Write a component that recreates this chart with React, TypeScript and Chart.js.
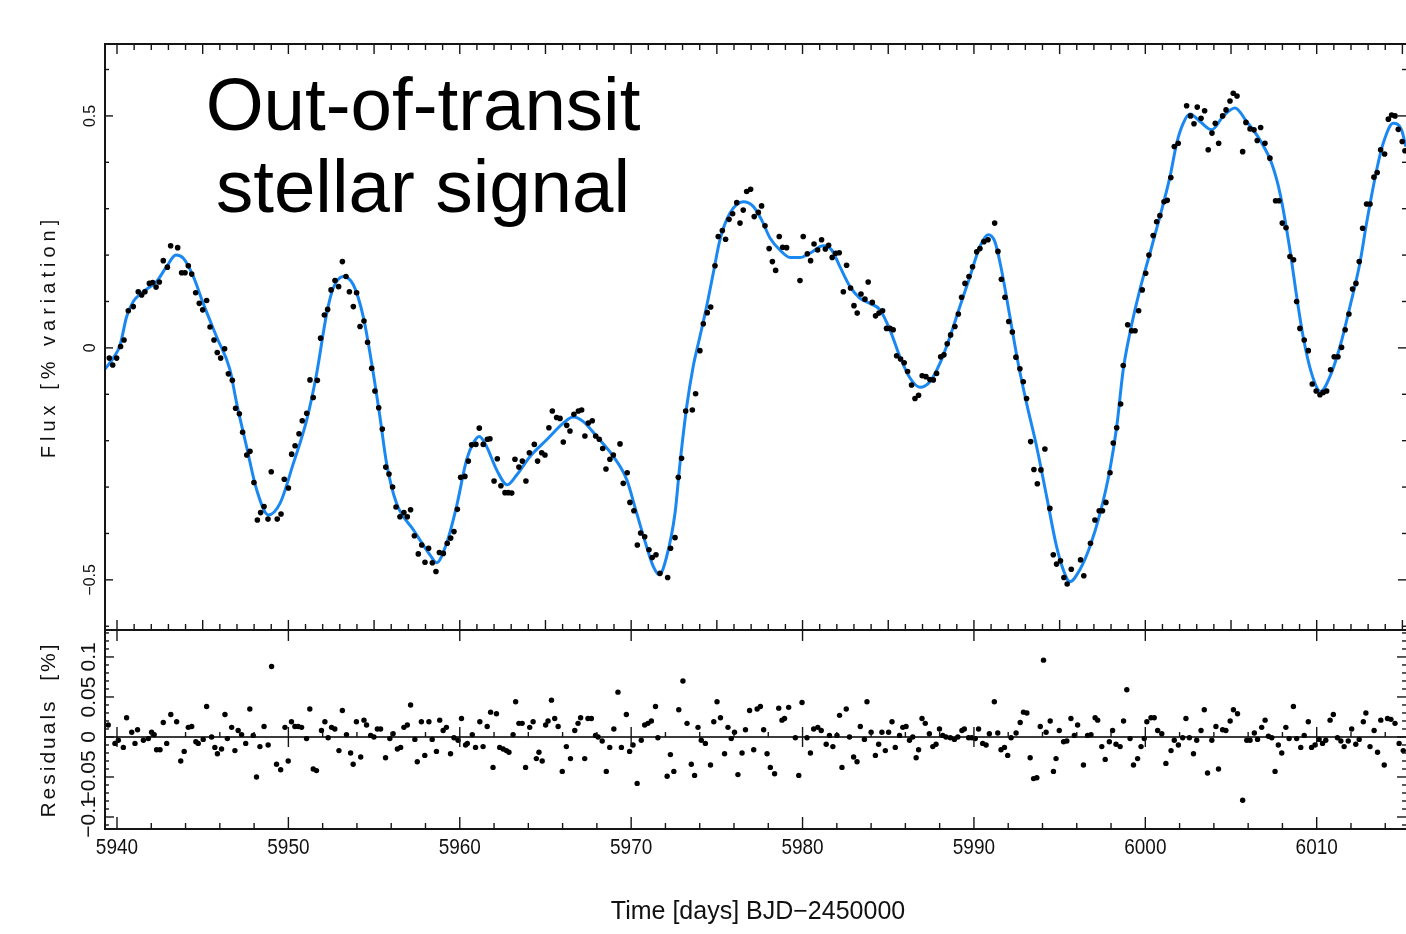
import React, { useEffect, useRef } from "react";
import { Chart, registerables } from "chart.js";

Chart.register(...registerables);

// ---------------- data ----------------
const X_MIN = 5939.3;
const X_MAX = 6015.21;
const FLUX_AXIS_MIN = -1.037;
const FLUX_AXIS_MAX = 0.655;
const FLUX_PANEL_BOTTOM = -0.608;
const RES_AXIS_MIN = -0.115;
const RES_AXIS_MAX = 0.866;

const xTickValues = [5940, 5950, 5960, 5970, 5980, 5990, 6000, 6010];
const xTickLabels = ["5940", "5950", "5960", "5970", "5980", "5990", "6000", "6010"];
const fluxTickValues = [0.5, 0, -0.5];
const fluxTickLabels = ["0.5", "0", "\u22120.5"];
const resTickValues = [0.1, 0.05, 0, -0.05, -0.1];
const resTickLabels = ["0.1", "0.05", "0", "\u22120.05", "\u22120.1"];

const xTitle = "Time [days] BJD\u22122450000";
const fluxTitle = "Flux [% variation]";
const resTitle = "Residuals  [%]";
const annotation = ["Out-of-transit", "stellar signal"];

// stellar model (blue curve) [day, flux %]
const modelCurve: [number, number][] = [
  [5939.3, -0.046], [5939.78, -0.022], [5940.18, 0.006], [5940.56, 0.067], [5940.95, 0.1],
  [5941.53, 0.121], [5942.31, 0.143], [5942.89, 0.175], [5943.44, 0.2], [5943.87, 0.193],
  [5944.45, 0.154], [5945.03, 0.096], [5945.81, 0.024], [5946.59, -0.047], [5946.98, -0.119],
  [5947.56, -0.213], [5948.15, -0.306], [5948.83, -0.36], [5949.51, -0.335], [5950.29, -0.249],
  [5951.07, -0.155], [5951.65, -0.055], [5952.24, 0.075], [5952.62, 0.129], [5953.2, 0.154],
  [5953.79, 0.136], [5954.37, 0.067], [5954.86, -0.033], [5955.34, -0.148], [5955.73, -0.249],
  [5956.31, -0.335], [5957.29, -0.392], [5958.26, -0.446], [5958.65, -0.463], [5959.23, -0.421],
  [5959.81, -0.342], [5960.4, -0.241], [5960.79, -0.205], [5961.14, -0.191], [5961.57, -0.213],
  [5962.15, -0.263], [5962.77, -0.295], [5963.32, -0.274], [5964.1, -0.234], [5965.07, -0.198],
  [5966.04, -0.162], [5966.62, -0.149], [5967.21, -0.159], [5967.99, -0.191], [5968.96, -0.234],
  [5969.74, -0.284], [5970.32, -0.356], [5970.9, -0.428], [5971.29, -0.471], [5971.64, -0.489],
  [5972.07, -0.45], [5972.56, -0.356], [5972.85, -0.249], [5973.24, -0.127], [5973.62, -0.04],
  [5974.01, 0.024], [5974.4, 0.089], [5974.79, 0.161], [5975.18, 0.233], [5975.76, 0.29],
  [5976.54, 0.315], [5977.12, 0.305], [5977.61, 0.276], [5978.1, 0.237], [5978.68, 0.211],
  [5979.27, 0.195], [5979.85, 0.195], [5980.43, 0.204], [5981.21, 0.22], [5981.7, 0.211],
  [5982.18, 0.175], [5982.77, 0.132], [5983.35, 0.107], [5983.93, 0.096], [5984.52, 0.082],
  [5985.1, 0.039], [5985.68, -0.019], [5986.27, -0.065], [5986.85, -0.085], [5987.43, -0.073],
  [5988.02, -0.033], [5988.6, 0.024], [5989.18, 0.089], [5989.77, 0.154], [5990.35, 0.219],
  [5990.83, 0.244], [5991.22, 0.229], [5991.61, 0.168], [5992.1, 0.067], [5992.58, -0.033],
  [5993.07, -0.119], [5993.66, -0.213], [5994.24, -0.32], [5994.82, -0.428], [5995.21, -0.478],
  [5995.6, -0.504], [5996.18, -0.478], [5996.77, -0.428], [5997.35, -0.358], [5997.93, -0.263],
  [5998.33, -0.17], [5998.71, -0.047], [5999.1, 0.032], [5999.68, 0.125], [6000.27, 0.204],
  [6000.85, 0.283], [6001.44, 0.369], [6001.83, 0.441], [6002.21, 0.484], [6002.6, 0.504],
  [6003.19, 0.488], [6003.87, 0.47], [6004.54, 0.499], [6005.23, 0.517], [6005.91, 0.488],
  [6006.69, 0.448], [6007.37, 0.398], [6007.86, 0.333], [6008.44, 0.211], [6008.83, 0.111],
  [6009.21, 0.024], [6009.7, -0.055], [6010.23, -0.094], [6010.77, -0.062], [6011.36, 0.003],
  [6011.94, 0.089], [6012.52, 0.183], [6012.91, 0.269], [6013.5, 0.384], [6013.88, 0.441],
  [6014.46, 0.484], [6014.95, 0.47], [6015.2, 0.434],
];

// observed flux (black dots) [day, flux %]
const observedFlux: [number, number][] = [
  [5939.55, -0.022], [5939.75, -0.037], [5939.98, -0.022], [5940.21, 0.003], [5940.41, 0.017],
  [5940.66, 0.08], [5940.95, 0.089], [5941.24, 0.121], [5941.44, 0.114], [5941.63, 0.121],
  [5941.89, 0.139], [5942.08, 0.141], [5942.28, 0.131], [5942.47, 0.142], [5942.7, 0.188],
  [5942.94, 0.174], [5943.13, 0.22], [5943.54, 0.216], [5943.77, 0.162], [5943.97, 0.162],
  [5944.16, 0.177], [5944.36, 0.159], [5944.59, 0.119], [5944.8, 0.096], [5945.0, 0.082],
  [5945.23, 0.102], [5945.43, 0.045], [5945.66, 0.017], [5945.85, -0.01], [5946.05, -0.022],
  [5946.28, -0.002], [5946.5, -0.056], [5946.73, -0.07], [5946.92, -0.13], [5947.14, -0.142],
  [5947.33, -0.182], [5947.57, -0.231], [5947.76, -0.223], [5947.99, -0.29], [5948.19, -0.371],
  [5948.38, -0.355], [5948.58, -0.342], [5948.81, -0.369], [5949.0, -0.267], [5949.35, -0.369],
  [5949.57, -0.358], [5949.76, -0.283], [5950.0, -0.302], [5950.19, -0.229], [5950.39, -0.211],
  [5950.62, -0.185], [5950.81, -0.157], [5951.07, -0.141], [5951.26, -0.069], [5951.45, -0.107],
  [5951.69, -0.07], [5951.88, 0.021], [5952.1, 0.071], [5952.29, 0.083], [5952.49, 0.125],
  [5952.72, 0.145], [5952.93, 0.132], [5953.15, 0.186], [5953.36, 0.154], [5953.56, 0.121],
  [5953.79, 0.089], [5953.98, 0.119], [5954.18, 0.046], [5954.41, 0.058], [5954.62, 0.012],
  [5954.86, -0.044], [5955.05, -0.093], [5955.27, -0.129], [5955.48, -0.175], [5955.68, -0.257],
  [5955.87, -0.272], [5956.08, -0.3], [5956.28, -0.343], [5956.51, -0.364], [5956.74, -0.355],
  [5956.94, -0.364], [5957.13, -0.349], [5957.35, -0.405], [5957.58, -0.444], [5957.78, -0.425],
  [5957.97, -0.462], [5958.18, -0.432], [5958.4, -0.463], [5958.61, -0.482], [5958.81, -0.441],
  [5959.04, -0.443], [5959.27, -0.421], [5959.47, -0.41], [5959.66, -0.396], [5959.86, -0.348],
  [5960.05, -0.279], [5960.3, -0.277], [5960.5, -0.244], [5960.69, -0.209], [5960.94, -0.208],
  [5961.14, -0.173], [5961.37, -0.208], [5961.61, -0.197], [5961.76, -0.196], [5962.0, -0.287],
  [5962.19, -0.239], [5962.4, -0.297], [5962.64, -0.312], [5962.83, -0.312], [5963.03, -0.313],
  [5963.22, -0.24], [5963.45, -0.257], [5963.65, -0.244], [5963.86, -0.287], [5964.06, -0.226],
  [5964.35, -0.208], [5964.54, -0.244], [5964.78, -0.226], [5964.97, -0.231], [5965.2, -0.172],
  [5965.4, -0.136], [5965.65, -0.15], [5965.85, -0.152], [5966.04, -0.203], [5966.24, -0.167],
  [5966.43, -0.179], [5966.66, -0.143], [5966.92, -0.136], [5967.11, -0.134], [5967.3, -0.19],
  [5967.5, -0.162], [5967.73, -0.157], [5967.93, -0.19], [5968.14, -0.197], [5968.34, -0.217],
  [5968.53, -0.261], [5968.76, -0.24], [5968.96, -0.231], [5969.35, -0.207], [5969.54, -0.292],
  [5969.77, -0.269], [5969.93, -0.333], [5970.16, -0.351], [5970.36, -0.425], [5970.55, -0.399],
  [5970.79, -0.407], [5971.04, -0.435], [5971.23, -0.452], [5971.45, -0.446], [5971.68, -0.486],
  [5972.13, -0.495], [5972.3, -0.432], [5972.56, -0.409], [5972.75, -0.279], [5972.94, -0.238],
  [5973.18, -0.136], [5973.57, -0.134], [5973.76, -0.099], [5974.01, -0.006], [5974.21, 0.052],
  [5974.44, 0.076], [5974.64, 0.088], [5974.89, 0.177], [5975.08, 0.24], [5975.32, 0.253],
  [5975.51, 0.234], [5975.71, 0.277], [5975.92, 0.289], [5976.16, 0.313], [5976.35, 0.269],
  [5976.54, 0.297], [5976.74, 0.337], [5976.97, 0.342], [5977.18, 0.283], [5977.42, 0.292],
  [5977.61, 0.306], [5977.81, 0.263], [5978.05, 0.214], [5978.24, 0.186], [5978.43, 0.167],
  [5978.64, 0.24], [5978.84, 0.217], [5979.07, 0.216], [5979.85, 0.145], [5980.04, 0.24],
  [5980.28, 0.203], [5980.47, 0.188], [5980.67, 0.224], [5980.88, 0.211], [5981.11, 0.233],
  [5981.33, 0.213], [5981.52, 0.221], [5981.73, 0.195], [5981.93, 0.204], [5982.14, 0.205],
  [5982.38, 0.121], [5982.57, 0.178], [5982.8, 0.129], [5983.0, 0.091], [5983.19, 0.075],
  [5983.41, 0.116], [5983.64, 0.105], [5983.83, 0.142], [5984.07, 0.098], [5984.26, 0.069],
  [5984.46, 0.075], [5984.67, 0.08], [5984.9, 0.042], [5985.1, 0.042], [5985.29, 0.039],
  [5985.49, -0.017], [5985.72, -0.024], [5985.93, -0.032], [5986.13, -0.051], [5986.36, -0.08],
  [5986.56, -0.109], [5986.77, -0.102], [5986.98, -0.06], [5987.2, -0.062], [5987.43, -0.068],
  [5987.63, -0.069], [5987.82, -0.055], [5988.06, -0.019], [5988.25, -0.015], [5988.44, 0.009],
  [5988.64, 0.028], [5988.89, 0.046], [5989.09, 0.073], [5989.28, 0.109], [5989.48, 0.139],
  [5989.71, 0.154], [5989.92, 0.175], [5990.16, 0.207], [5990.35, 0.214], [5990.58, 0.229],
  [5990.82, 0.233], [5991.21, 0.269], [5991.4, 0.208], [5991.6, 0.148], [5991.81, 0.109],
  [5992.03, 0.057], [5992.24, 0.034], [5992.45, -0.02], [5992.68, -0.045], [5992.88, -0.073],
  [5993.07, -0.109], [5993.31, -0.202], [5993.5, -0.262], [5993.7, -0.293], [5993.91, -0.263],
  [5994.14, -0.218], [5994.43, -0.346], [5994.63, -0.446], [5994.82, -0.466], [5995.05, -0.459],
  [5995.25, -0.495], [5995.44, -0.509], [5995.68, -0.477], [5996.22, -0.457], [5996.41, -0.491],
  [5996.8, -0.421], [5997.06, -0.371], [5997.31, -0.351], [5997.5, -0.351], [5997.7, -0.333],
  [5997.94, -0.269], [5998.13, -0.205], [5998.33, -0.172], [5998.56, -0.121], [5998.71, -0.038],
  [5998.97, 0.05], [5999.2, 0.037], [5999.4, 0.037], [5999.61, 0.08], [5999.82, 0.125],
  [6000.02, 0.161], [6000.21, 0.2], [6000.46, 0.242], [6000.66, 0.272], [6000.85, 0.285],
  [6001.09, 0.315], [6001.28, 0.318], [6001.49, 0.367], [6001.69, 0.434], [6001.92, 0.441],
  [6002.41, 0.522], [6002.64, 0.5], [6002.84, 0.483], [6003.03, 0.519], [6003.25, 0.495],
  [6003.46, 0.511], [6003.67, 0.427], [6003.89, 0.463], [6004.08, 0.484], [6004.28, 0.441],
  [6004.51, 0.5], [6004.71, 0.513], [6004.94, 0.532], [6005.13, 0.549], [6005.35, 0.543],
  [6005.68, 0.423], [6005.87, 0.486], [6006.11, 0.472], [6006.34, 0.47], [6006.53, 0.447],
  [6006.73, 0.475], [6006.98, 0.441], [6007.27, 0.409], [6007.6, 0.317], [6007.8, 0.317],
  [6007.99, 0.269], [6008.21, 0.259], [6008.44, 0.197], [6008.65, 0.19], [6008.83, 0.1],
  [6009.02, 0.042], [6009.27, 0.017], [6009.51, -0.006], [6009.74, -0.078], [6009.97, -0.093],
  [6010.19, -0.101], [6010.38, -0.096], [6010.58, -0.093], [6010.81, -0.047], [6011.02, -0.019],
  [6011.24, -0.019], [6011.45, 0.001], [6011.66, 0.039], [6011.88, 0.073], [6012.09, 0.127],
  [6012.29, 0.139], [6012.48, 0.186], [6012.68, 0.258], [6012.91, 0.31], [6013.11, 0.31],
  [6013.34, 0.368], [6013.53, 0.378], [6013.73, 0.427], [6013.96, 0.418], [6014.18, 0.493],
  [6014.37, 0.502], [6014.57, 0.5], [6014.76, 0.471], [6014.99, 0.445], [6015.15, 0.425],
];

// residuals [day, %]
const residuals: [number, number][] = [
  [5939.49, 0.015], [5939.88, -0.008], [5940.08, -0.004], [5940.37, -0.013], [5940.56, 0.024],
  [5940.86, 0.006], [5941.05, -0.008], [5941.2, 0.009], [5941.54, -0.004], [5941.83, -0.002],
  [5942.02, 0.006], [5942.17, 0.003], [5942.31, -0.016], [5942.51, -0.016], [5942.7, 0.018],
  [5942.9, -0.008], [5943.14, 0.028], [5943.48, 0.019], [5943.72, -0.03], [5943.92, -0.018],
  [5944.16, 0.012], [5944.36, 0.013], [5944.6, -0.006], [5944.74, -0.008], [5945.03, -0.003],
  [5945.23, 0.038], [5945.52, 0.0], [5945.71, -0.013], [5945.86, -0.021], [5946.1, -0.015],
  [5946.3, 0.028], [5946.44, -0.002], [5946.69, 0.012], [5946.88, -0.017], [5947.07, 0.008],
  [5947.27, 0.003], [5947.51, -0.008], [5947.75, 0.035], [5947.95, 0.002], [5948.14, -0.05],
  [5948.34, -0.012], [5948.58, 0.013], [5948.82, -0.01], [5949.02, 0.088], [5949.31, -0.034],
  [5949.55, -0.041], [5949.8, 0.012], [5949.99, -0.03], [5950.18, 0.019], [5950.38, 0.013],
  [5950.57, 0.013], [5950.77, 0.012], [5951.06, -0.002], [5951.25, 0.035], [5951.45, -0.04],
  [5951.64, -0.042], [5951.93, 0.008], [5952.13, 0.019], [5952.32, -0.001], [5952.52, 0.012],
  [5952.71, 0.01], [5952.95, -0.017], [5953.15, 0.033], [5953.39, 0.003], [5953.63, -0.02],
  [5953.78, -0.034], [5953.97, 0.019], [5954.22, -0.025], [5954.41, 0.021], [5954.56, 0.015],
  [5954.8, 0.002], [5954.99, 0.0], [5955.19, 0.01], [5955.38, 0.01], [5955.67, -0.026],
  [5955.92, -0.002], [5956.11, 0.004], [5956.36, -0.015], [5956.55, -0.013], [5956.74, 0.012],
  [5956.94, 0.015], [5957.13, 0.04], [5957.38, -0.003], [5957.52, -0.031], [5957.76, 0.019],
  [5957.96, -0.023], [5958.2, 0.019], [5958.39, -0.003], [5958.64, -0.018], [5958.83, 0.021],
  [5959.03, 0.008], [5959.22, 0.012], [5959.46, -0.021], [5959.66, -0.001], [5959.9, -0.004],
  [5960.1, 0.023], [5960.34, -0.01], [5960.44, -0.008], [5960.73, 0.003], [5960.92, -0.013],
  [5961.17, 0.019], [5961.36, -0.012], [5961.6, 0.013], [5961.8, 0.031], [5961.94, -0.038],
  [5962.14, 0.029], [5962.33, -0.013], [5962.53, -0.015], [5962.72, -0.017], [5962.87, -0.019],
  [5963.11, 0.003], [5963.26, 0.044], [5963.45, 0.017], [5963.64, 0.017], [5963.84, -0.038],
  [5964.08, 0.012], [5964.28, 0.019], [5964.47, -0.027], [5964.62, -0.019], [5964.81, -0.03],
  [5965.01, 0.015], [5965.15, 0.02], [5965.35, 0.046], [5965.54, 0.023], [5965.74, 0.013],
  [5965.98, -0.043], [5966.22, -0.012], [5966.46, -0.027], [5966.71, 0.008], [5966.9, 0.017],
  [5967.05, 0.024], [5967.29, -0.027], [5967.48, 0.023], [5967.68, 0.023], [5967.92, 0.002],
  [5968.07, 0.0], [5968.31, -0.005], [5968.55, -0.043], [5968.75, -0.013], [5968.99, 0.01],
  [5969.23, 0.056], [5969.43, -0.013], [5969.72, 0.028], [5969.91, -0.018], [5970.11, -0.01],
  [5970.35, -0.058], [5970.59, -0.004], [5970.79, 0.015], [5970.98, 0.017], [5971.18, 0.02],
  [5971.42, 0.038], [5971.56, -0.001], [5972.1, -0.049], [5972.29, -0.022], [5972.49, -0.043],
  [5972.78, 0.034], [5973.02, 0.07], [5973.26, 0.017], [5973.51, -0.034], [5973.7, -0.048],
  [5973.9, 0.012], [5974.09, -0.004], [5974.33, -0.008], [5974.63, -0.035], [5974.82, 0.019],
  [5975.01, 0.044], [5975.21, 0.024], [5975.45, -0.021], [5975.65, 0.012], [5975.84, -0.002],
  [5976.03, 0.006], [5976.23, -0.047], [5976.47, -0.02], [5976.67, 0.009], [5976.91, 0.033],
  [5977.15, -0.016], [5977.35, 0.035], [5977.54, 0.038], [5977.73, 0.009], [5977.93, -0.021],
  [5978.12, -0.038], [5978.37, -0.046], [5978.61, 0.036], [5978.8, 0.021], [5978.95, 0.023],
  [5979.19, 0.037], [5979.58, -0.001], [5979.78, -0.048], [5979.97, 0.043], [5980.26, -0.001],
  [5980.46, -0.02], [5980.65, 0.01], [5980.89, 0.012], [5981.09, 0.008], [5981.38, -0.009],
  [5981.57, 0.002], [5981.77, -0.012], [5982.01, 0.002], [5982.16, 0.027], [5982.3, -0.038],
  [5982.55, 0.035], [5982.74, 0.0], [5982.98, -0.025], [5983.18, -0.031], [5983.37, 0.013],
  [5983.61, -0.003], [5983.76, 0.044], [5984.0, 0.006], [5984.25, -0.023], [5984.44, -0.009],
  [5984.63, 0.006], [5984.83, -0.017], [5985.02, 0.006], [5985.22, 0.019], [5985.41, -0.013],
  [5985.66, 0.002], [5985.85, 0.012], [5986.04, 0.013], [5986.24, -0.004], [5986.43, 0.0],
  [5986.63, -0.026], [5986.77, -0.016], [5986.97, 0.023], [5987.16, 0.017], [5987.4, 0.004],
  [5987.6, -0.012], [5987.79, -0.009], [5987.99, 0.01], [5988.18, 0.002], [5988.37, 0.0],
  [5988.62, -0.001], [5988.86, -0.003], [5989.06, 0.0], [5989.3, 0.008], [5989.44, 0.01],
  [5989.69, -0.001], [5989.88, -0.001], [5990.08, -0.002], [5990.27, 0.01], [5990.51, -0.008],
  [5990.71, -0.01], [5990.9, 0.004], [5991.19, 0.044], [5991.39, 0.005], [5991.58, -0.016],
  [5991.78, -0.013], [5991.97, -0.023], [5992.17, -0.001], [5992.46, 0.005], [5992.7, 0.018],
  [5992.89, 0.031], [5993.09, 0.03], [5993.28, -0.026], [5993.48, -0.052], [5993.67, -0.051],
  [5993.87, 0.013], [5994.06, 0.096], [5994.21, 0.006], [5994.45, 0.02], [5994.64, -0.043],
  [5994.79, -0.027], [5994.98, 0.008], [5995.23, -0.006], [5995.42, -0.005], [5995.66, 0.023],
  [5995.86, 0.002], [5996.05, 0.015], [5996.39, -0.035], [5996.63, 0.002], [5996.83, 0.003],
  [5997.07, 0.024], [5997.22, 0.021], [5997.46, -0.012], [5997.66, -0.028], [5997.9, -0.006],
  [5998.09, 0.008], [5998.29, -0.009], [5998.53, -0.012], [5998.73, 0.02], [5998.92, 0.059],
  [5999.11, -0.002], [5999.31, -0.035], [5999.55, -0.027], [5999.75, -0.012], [5999.94, -0.002],
  [6000.09, 0.019], [6000.33, 0.024], [6000.52, 0.024], [6000.72, 0.008], [6000.96, 0.004],
  [6001.2, -0.033], [6001.5, -0.017], [6001.69, -0.004], [6001.93, -0.01], [6002.18, -0.001],
  [6002.37, 0.023], [6002.57, -0.001], [6002.81, -0.021], [6003.0, -0.004], [6003.25, 0.008],
  [6003.44, 0.034], [6003.63, -0.045], [6003.88, -0.004], [6004.12, 0.013], [6004.27, -0.04],
  [6004.51, 0.009], [6004.7, 0.008], [6004.95, 0.02], [6005.14, 0.034], [6005.38, 0.029],
  [6005.68, -0.079], [6005.92, -0.004], [6006.11, -0.004], [6006.36, 0.005], [6006.55, -0.003],
  [6006.79, 0.012], [6006.99, 0.021], [6007.18, 0.001], [6007.38, -0.001], [6007.57, -0.043],
  [6007.76, -0.01], [6007.96, -0.02], [6008.2, 0.012], [6008.39, -0.002], [6008.64, 0.038],
  [6008.83, -0.002], [6009.07, -0.013], [6009.27, 0.002], [6009.51, 0.019], [6009.7, -0.013],
  [6009.9, -0.01], [6010.14, -0.003], [6010.34, -0.008], [6010.53, -0.004], [6010.78, 0.021],
  [6010.97, 0.028], [6011.21, -0.001], [6011.41, -0.005], [6011.6, -0.012], [6011.84, -0.005],
  [6012.04, 0.01], [6012.28, -0.009], [6012.48, -0.003], [6012.72, 0.019], [6012.87, 0.03],
  [6013.11, -0.012], [6013.35, 0.008], [6013.55, -0.019], [6013.74, 0.021], [6013.94, -0.035],
  [6014.13, 0.023], [6014.33, 0.022], [6014.57, 0.017], [6014.81, -0.008], [6015.05, -0.017],
];

// ---------------- drawing helpers ----------------
const FONT = "'Liberation Sans', Arial, sans-serif";
const BLUE = "#1a88f2";

function drawText(
  ctx: CanvasRenderingContext2D,
  text: string,
  x: number,
  y: number,
  size: number,
  opts: { rotate?: boolean; sx?: number; sy?: number; spacing?: number; baseline?: CanvasTextBaseline; color?: string } = {}
) {
  ctx.save();
  ctx.translate(x, y);
  if (opts.rotate) ctx.rotate(-Math.PI / 2);
  ctx.scale(opts.sx ?? 1, opts.sy ?? 1);
  ctx.font = `${size}px ${FONT}`;
  (ctx as any).letterSpacing = `${opts.spacing ?? 0}px`;
  ctx.fillStyle = opts.color ?? "#111";
  ctx.textAlign = "center";
  ctx.textBaseline = opts.baseline ?? "middle";
  const shift = (opts.spacing ?? 0) / 2;
  ctx.fillText(text, shift, 0);
  ctx.restore();
}

function seg(ctx: CanvasRenderingContext2D, x1: number, y1: number, x2: number, y2: number) {
  ctx.beginPath();
  ctx.moveTo(x1, y1);
  ctx.lineTo(x2, y2);
  ctx.stroke();
}

const framePlugin = {
  id: "pgplotFrame",
  beforeDatasetsDraw(chart: any) {
    const { ctx, chartArea: a, scales } = chart;
    const z = scales.yr.getPixelForValue(0);
    ctx.save();
    ctx.strokeStyle = "#3c3c3c";
    ctx.lineWidth = 2.2;
    seg(ctx, a.left, z, a.right, z);
    ctx.restore();
  },
  afterDatasetsDraw(chart: any) {
    const { ctx, chartArea: a, scales } = chart;
    const x = scales.x, y = scales.y, yr = scales.yr;
    const L = a.left, R = a.right, T = a.top, B = a.bottom;
    const S = y.getPixelForValue(FLUX_PANEL_BOTTOM);
    const Z = yr.getPixelForValue(0);
    ctx.save();
    ctx.strokeStyle = "#151515";
    ctx.lineWidth = 2;
    // left, top, bottom and panel-split lines (right edge falls outside the picture)
    seg(ctx, L, T - 1, L, B + 1);
    seg(ctx, L, T, R + 2, T);
    seg(ctx, L, B, R + 2, B);
    seg(ctx, L, S, R + 2, S);
    ctx.lineWidth = 1.4;
    for (let d = 5940; d <= 6015; d++) {
      const px = x.getPixelForValue(d);
      const five = d % 5 === 0;
      const ten = d % 10 === 0;
      const len = five ? 10 : 6;
      seg(ctx, px, T, px, T + len);
      seg(ctx, px, S, px, S - len);
      if (ten) seg(ctx, px, S, px, S + 11);
      if (d % 2 === 0) {
        seg(ctx, px, B, px, B - (ten ? 12 : 6));
        if (ten) seg(ctx, px, Z - 10, px, Z + 10);
        else seg(ctx, px, Z, px, Z - 5);
      }
    }
    for (let k = -6; k <= 6; k++) {
      const py = y.getPixelForValue(k / 10);
      if (py < T + 1 || py > S - 1) continue;
      const len = k % 5 === 0 ? 8 : 4;
      seg(ctx, L, py, L + len, py);
      seg(ctx, R, py, R - len, py);
    }
    for (let k = -11; k <= 13; k++) {
      const py = yr.getPixelForValue(k / 100);
      if (py < S + 1 || py > B - 1) continue;
      const len = k % 5 === 0 ? 9 : 4;
      seg(ctx, L, py, L + len, py);
      seg(ctx, R, py, R - len, py);
    }
    ctx.restore();
  },
  afterDraw(chart: any) {
    const { ctx, scales } = chart;
    const x = scales.x, y = scales.y, yr = scales.yr;
    xTickValues.forEach((v, i) => drawText(ctx, xTickLabels[i], x.getPixelForValue(v), 848, 19, { sy: 1.15 }));
    fluxTickValues.forEach((v, i) => drawText(ctx, fluxTickLabels[i], 91, y.getPixelForValue(v), 16, { rotate: true }));
    resTickValues.forEach((v, i) => drawText(ctx, resTickLabels[i], 89, yr.getPixelForValue(v), 21, { rotate: true }));
    drawText(ctx, fluxTitle, 49, 339, 20, { rotate: true, spacing: 5 });
    drawText(ctx, resTitle, 49, 731, 21, { rotate: true, spacing: 3 });
    drawText(ctx, xTitle, 758, 912, 25);
    drawText(ctx, annotation[0], 423, 130, 74.5, { baseline: "alphabetic", color: "#000" });
    drawText(ctx, annotation[1], 423, 212, 74.5, { baseline: "alphabetic", color: "#000" });
  },
};

export default function App() {
  const ref = useRef<HTMLCanvasElement>(null);
  useEffect(() => {
    if (!ref.current) return;
    const chart = new Chart(ref.current, {
      type: "line",
      data: {
        datasets: [
          {
            label: "model",
            data: modelCurve.map(([t, f]) => ({ x: t, y: f })),
            yAxisID: "y",
            borderColor: BLUE,
            borderWidth: 3,
            pointRadius: 0,
            pointHoverRadius: 0,
            cubicInterpolationMode: "monotone",
            fill: false,
            order: 2,
          },
          {
            label: "flux",
            data: observedFlux.map(([t, f]) => ({ x: t, y: f })),
            yAxisID: "y",
            showLine: false,
            pointRadius: 2.8,
            pointHoverRadius: 0,
            pointBackgroundColor: "#000",
            pointBorderWidth: 0,
            order: 1,
          },
          {
            label: "residuals",
            data: residuals.map(([t, r]) => ({ x: t, y: r })),
            yAxisID: "yr",
            showLine: false,
            pointRadius: 2.7,
            pointHoverRadius: 0,
            pointBackgroundColor: "#000",
            pointBorderWidth: 0,
            order: 1,
          },
        ],
      },
      options: {
        responsive: false,
        animation: false,
        events: [],
        layout: { autoPadding: false, padding: { left: 105, top: 44, right: -1, bottom: 105 } },
        plugins: { legend: { display: false }, tooltip: { enabled: false } },
        scales: {
          x: { type: "linear", min: X_MIN, max: X_MAX, display: false },
          y: { type: "linear", min: FLUX_AXIS_MIN, max: FLUX_AXIS_MAX, display: false },
          yr: { type: "linear", position: "left", min: RES_AXIS_MIN, max: RES_AXIS_MAX, display: false },
        },
      } as any,
      plugins: [framePlugin],
    });
    return () => chart.destroy();
  }, []);
  return (
    <div style={{ position: "absolute", left: 0, top: 0, width: 1406, height: 934, background: "#fff" }}>
      <canvas ref={ref} width={1406} height={934} style={{ display: "block", width: 1406, height: 934 }} />
    </div>
  );
}
